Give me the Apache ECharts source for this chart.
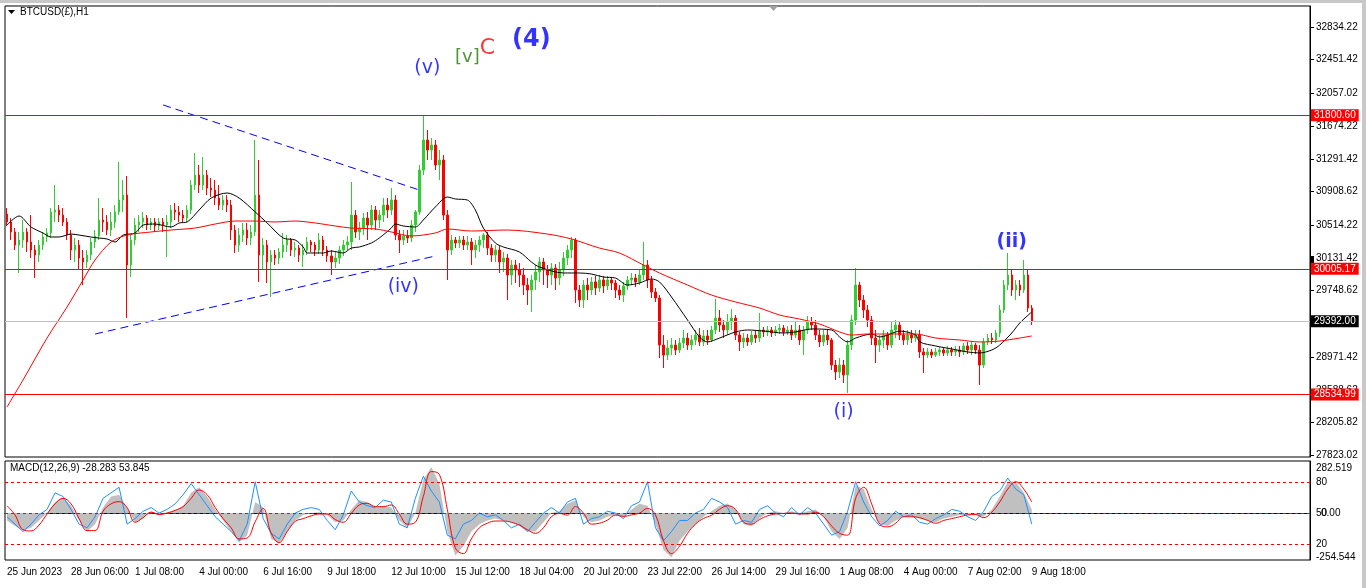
<!DOCTYPE html>
<html><head><meta charset="utf-8">
<script src="https://cdn.jsdelivr.net/npm/echarts@6/dist/echarts.min.js"></script>
<style>html,body{margin:0;padding:0;background:#fff;overflow:hidden}#c{width:1366px;height:588px}</style>
</head><body><div id="c"></div>
<script>
// ---------- axis labels ----------
const timeTickLabels = ['25 Jun 2023','28 Jun 06:00','1 Jul 08:00','4 Jul 00:00','6 Jul 16:00','9 Jul 18:00','12 Jul 10:00','15 Jul 12:00','18 Jul 04:00','20 Jul 20:00','23 Jul 22:00','26 Jul 14:00','29 Jul 16:00','1 Aug 08:00','4 Aug 00:00','7 Aug 02:00','9 Aug 18:00'];
const priceTicks = [32834.22,32451.42,32057.02,31674.22,31291.42,30908.62,30514.22,30131.42,29748.62,29365.82,28971.42,28588.62,28205.82,27823.02];
const macdAxisValues = [282.519,168,0,-168,-254.544];
const macdAxisTexts = ['282.519','80','50','20','-254.544'];

// ---------- candles (each = 4 hourly bars) ----------
const opens = [
30646,30553,30436,30283,30342,30436,30319,30225,30166,30283,
30377,30424,30670,30693,30634,30553,30400,30225,30283,30131,
30085,30166,30319,30389,30576,30553,30459,30553,30670,30810,
30868,30049,30342,30517,30553,30599,30517,30553,30506,30553,
30517,30553,30693,30670,30634,30599,30693,30985,31102,30985,
31102,30950,30927,30833,30751,30810,30751,30459,30283,30400,
30459,30365,30436,30868,30166,30283,30085,30166,30131,30202,
30283,30342,30225,30248,30166,30225,30319,30283,30225,30342,
30225,30155,30085,30131,30225,30283,30319,30634,30436,30482,
30599,30517,30693,30576,30634,30751,30693,30810,30400,30342,
30389,30365,30517,30670,31161,31512,31395,31454,31220,31278,
30634,30225,30342,30307,30342,30283,30319,30225,30283,30342,
30400,30248,30166,30225,30085,30131,29932,30049,29991,29932,
29815,29757,29874,29968,30085,29991,29932,30014,29897,29991,
30131,30225,30342,29757,29640,29815,29757,29851,29780,29874,
29804,29874,29839,29757,29698,29804,29874,29897,29851,29932,
30049,29874,29734,29663,29113,28996,29078,29113,29055,29137,
29195,29113,29172,29230,29149,29219,29172,29289,29429,29347,
29289,29383,29429,29230,29149,29195,29149,29230,29195,29289,
29266,29289,29254,29289,29312,29266,29289,29230,29289,29172,
29289,29383,29347,29230,29149,29230,29172,28879,28798,28879,
28762,29113,29406,29815,29640,29523,29406,29195,29113,29172,
29230,29113,29289,29347,29230,29172,29230,29195,29230,29032,
28996,29032,28996,29032,29055,29020,29055,29032,29055,29032,
29102,29055,29113,29055,28879,29149,29195,29172,29254,29523,
29815,29932,29757,29815,29757,29932,29546];
const closes = [
30553,30436,30283,30342,30436,30319,30225,30166,30283,30377,
30424,30670,30693,30634,30553,30400,30225,30283,30131,30085,
30166,30319,30389,30576,30553,30459,30553,30670,30810,30868,
30049,30342,30517,30553,30599,30517,30553,30506,30553,30517,
30553,30693,30670,30634,30599,30693,30985,31102,30985,31102,
30950,30927,30833,30751,30810,30751,30459,30283,30400,30459,
30365,30436,30868,30166,30283,30085,30166,30131,30202,30283,
30342,30225,30248,30166,30225,30319,30283,30225,30342,30225,
30155,30085,30131,30225,30283,30319,30634,30436,30482,30599,
30517,30693,30576,30634,30751,30693,30810,30400,30342,30389,
30365,30517,30670,31161,31512,31395,31454,31220,31278,30634,
30225,30342,30307,30342,30283,30319,30225,30283,30342,30400,
30248,30166,30225,30085,30131,29932,30049,29991,29932,29815,
29757,29874,29968,30085,29991,29932,30014,29897,29991,30131,
30225,30342,29757,29640,29815,29757,29851,29780,29874,29804,
29874,29839,29757,29698,29804,29874,29897,29851,29932,30049,
29874,29734,29663,29113,28996,29078,29113,29055,29137,29195,
29113,29172,29230,29149,29219,29172,29289,29429,29347,29289,
29383,29429,29230,29149,29195,29149,29230,29195,29289,29266,
29289,29254,29289,29312,29266,29289,29230,29289,29172,29289,
29383,29347,29230,29149,29230,29172,28879,28798,28879,28762,
29113,29406,29815,29640,29523,29406,29195,29113,29172,29230,
29113,29289,29347,29230,29172,29230,29195,29230,29032,28996,
29032,28996,29032,29055,29020,29055,29032,29055,29032,29102,
29055,29113,29055,28879,29149,29195,29172,29254,29523,29815,
29932,29757,29815,29757,29932,29546,29392];
const lows = [
30506,30342,30225,29956,30248,30202,30131,29897,30085,30225,
30319,30365,30553,30553,30506,30342,30108,30085,29991,29815,
30014,30108,30248,30342,30436,30400,30389,30482,30634,30670,
29429,29909,30283,30436,30482,30459,30459,30436,30459,30436,
30143,30482,30576,30553,30553,30553,30646,30927,30892,30927,
30868,30845,30751,30693,30693,30670,30342,30190,30202,30319,
30283,30283,30389,29851,29991,29839,29675,30049,30061,30131,
30202,30155,30143,30085,30026,30166,30202,30155,30178,30155,
30085,29932,30014,30061,30155,30225,30225,30365,30342,30400,
30342,30459,30459,30482,30553,30599,30634,30342,30190,30283,
30307,30319,30436,30634,31102,31278,31278,31161,31044,30576,
29874,30166,30248,30248,30225,30225,30049,30131,30202,30248,
30166,30085,30085,29956,29968,29640,29815,29839,29792,29698,
29581,29500,29757,29851,29815,29780,29815,29757,29815,29921,
30049,30131,29605,29558,29546,29640,29698,29698,29734,29722,
29757,29757,29663,29640,29617,29757,29815,29792,29815,29874,
29780,29663,29617,28961,28844,28938,28996,28996,29020,29078,
29055,29055,29113,29102,29102,29113,29149,29242,29266,29195,
29230,29289,29172,29043,29078,29102,29113,29137,29149,29207,
29219,29207,29219,29242,29219,29230,29172,29195,29113,28996,
29242,29289,29172,29090,29102,29113,28821,28704,28727,28669,
28552,29055,29347,29558,29429,29324,29113,28903,29032,29078,
29055,29078,29195,29172,29113,29113,29137,29149,28961,28786,
28961,28961,28973,28985,28985,28985,28985,28985,28973,28996,
29008,28996,29008,28645,28844,29113,29125,29137,29207,29488,
29757,29687,29640,29687,29722,29500,29347];
const highs = [
30716,30599,30482,30436,30576,30482,30634,30283,30342,30436,
30482,30716,30985,30751,30716,30599,30459,30365,30342,30225,
30225,30365,30459,30833,30716,30634,30670,30751,31255,31044,
31091,30400,30599,30634,30670,30634,30599,30599,30599,30599,
30634,30751,30775,30740,30693,30751,31044,31360,31220,31313,
31161,31067,31044,30985,30868,30868,30810,30517,30482,30541,
30541,30517,31512,31278,30365,30342,30225,30225,30248,30424,
30400,30365,30319,30283,30295,30377,30342,30319,30424,30389,
30272,30225,30202,30272,30342,30389,31021,30693,30553,30658,
30670,30751,30740,30693,30833,30833,30950,30868,30459,30459,
30459,30576,30693,31220,31793,31629,31535,31512,31395,31337,
30693,30400,30377,30389,30389,30389,30365,30342,30389,30424,
30436,30295,30283,30272,30202,30178,30108,30108,30073,30014,
29897,29932,30049,30143,30131,30049,30073,30061,30085,30202,
30283,30377,30365,29815,29874,29897,29909,29921,29932,29921,
29921,29909,29874,29815,29851,29921,29956,29944,29991,30319,
30108,29921,29780,29698,29230,29172,29195,29172,29195,29289,
29254,29230,29289,29312,29289,29289,29336,29652,29523,29406,
29476,29535,29464,29266,29254,29242,29277,29289,29488,29324,
29336,29324,29336,29359,29347,29336,29347,29383,29347,29336,
29453,29441,29406,29289,29289,29289,29195,28938,28961,28938,
29172,29464,30014,29851,29698,29581,29453,29289,29230,29289,
29266,29383,29406,29394,29289,29289,29289,29289,29289,29078,
29078,29067,29078,29090,29090,29102,29090,29102,29102,29137,
29149,29149,29137,29113,29195,29242,29254,29289,29581,29874,
30190,29991,29874,29874,30108,29991,29581];

// ---------- moving averages [candle index, price] ----------
const maFast = [[0,30517],[3,30623],[6,30494],[9,30424],[11,30377],[13,30377],[16,30412],[18,30400],[21,30377],[23,30365],[25,30354],[27,30319],[29,30400],[32,30424],[34,30517],[37,30529],[41,30494],[43,30541],[45,30553],[48,30693],[51,30833],[55,30892],[58,30833],[62,30670],[65,30541],[69,30365],[72,30342],[74,30260],[75,30190],[79,30190],[81,30213],[84,30190],[86,30248],[88,30260],[91,30307],[93,30365],[96,30482],[97,30529],[99,30506],[102,30494],[104,30576],[107,30728],[110,30845],[112,30822],[115,30810],[117,30693],[119,30482],[122,30307],[124,30260],[128,30202],[131,30085],[133,30026],[139,29956],[143,29956],[146,29944],[149,29909],[152,29897],[155,29815],[158,29839],[161,29886],[163,29851],[166,29675],[170,29406],[173,29207],[175,29149],[178,29195],[182,29266],[185,29289],[189,29277],[194,29254],[197,29266],[201,29301],[206,29289],[208,29207],[210,29149],[212,29195],[216,29242],[218,29207],[222,29266],[223,29277],[227,29230],[228,29149],[232,29102],[236,29067],[240,29032],[243,29020],[246,29055],[248,29113],[251,29254],[253,29371],[256,29500]];
const maSlow = [[0,28388],[4,28704],[10,29195],[15,29558],[19,29874],[22,30108],[26,30319],[30,30400],[36,30436],[41,30459],[47,30482],[52,30529],[57,30564],[62,30564],[67,30553],[72,30564],[77,30541],[82,30506],[86,30482],[92,30471],[96,30436],[101,30389],[107,30424],[110,30471],[116,30447],[125,30459],[135,30412],[141,30354],[148,30248],[153,30190],[159,30049],[163,29956],[170,29815],[176,29698],[182,29617],[188,29546],[193,29464],[198,29417],[203,29359],[208,29266],[211,29230],[215,29242],[221,29242],[227,29242],[232,29195],[238,29172],[243,29149],[248,29160],[253,29195],[256,29219]];

// ---------- price levels ----------
const levelResistance = 31800.60;
const levelPivot = 30005.17;
const levelSupport = 28534.99;
const lastPrice = 29392.00;

// ---------- trend lines [candle index, price] ----------
const trendUpper = [[39,31922],[103,30927]];
const trendLower = [[22,29242],[107,30155]];

// ---------- wave labels ----------
const waveTexts  = ['(v)','[v]','C','(4)','(iv)','(i)','(ii)'];
const waveIndex  = [105,115,120,131,99,209,251];
const wavePrice  = [32354,32483,32588,32682,29792,28330,30319];
const waveColors = ['#0000ff','#1f7a00','#ff0000','#0000ff','#0000ff','#0000ff','#0000ff'];
const waveSizes  = [19,18,22,24,19,19,19];

// ---------- MACD panel (one value every 2 candles) ----------
const macdGray = [
-40,-70,-95,-80,-40,0,60,85,40,-40,
-100,-60,30,90,100,30,-50,-30,10,-5,
5,15,40,110,140,90,20,-40,-100,-160,
-120,60,30,-140,-165,-100,-40,-10,0,5,
-10,-50,-40,20,70,60,30,40,30,-40,
-80,0,180,250,160,-100,-230,-180,-100,-60,
-40,-30,-40,-50,-70,-100,-100,-50,0,10,
50,70,-20,-50,-40,-20,-10,-20,20,50,
40,-60,-200,-240,-150,
-100,-60,-20,10,40,50,20,-60,-70,-30,
0,10,0,10,0,10,20,-20,-100,-140,
-80,150,130,20,-60,-70,-40,-20,-20,-30,
-40,-50,-30,-20,-10,-10,-10,-20,20,90,
170,170,110,20];
const macdSignal = [
40,-10,-90,-97,-65,-5,50,80,50,-30,
-95,-95,10,50,62,30,-50,-25,5,-8,
0,15,35,80,125,100,30,-30,-80,-140,
-135,-47,25,-110,-160,-100,-45,-30,-15,-5,
-5,-35,-50,-2,44,53,35,35,44,-5,
-60,-50,90,225,210,20,-190,-220,-140,-80,
-55,-43,-43,-50,-65,-90,-110,-80,-20,-2,
-11,35,0,-60,-55,-38,-11,-18,-10,0,
25,-10,-150,-220,-180,
-110,-60,-29,-12,20,40,20,-50,-60,-35,
-15,-5,-2,0,-5,-5,5,-20,-70,-110,
-120,80,140,50,-60,-75,-55,-20,-20,-25,
-40,-55,-40,-30,-20,-10,-8,-25,5,60,
130,170,130,60];
const macdBlue = [
-20,-60,-100,-60,-10,20,110,90,20,-60,
-80,-20,80,110,140,-60,-30,10,30,0,
20,50,100,160,100,40,-20,-60,-100,-150,
-60,170,-30,-110,-140,-60,0,20,30,20,
-40,-90,-10,120,60,40,30,70,60,-60,
-80,80,200,120,60,-120,-140,-60,-40,0,
-20,-10,-40,-80,-60,-100,-50,0,30,0,
60,80,-60,-30,-20,10,0,-30,40,60,
170,-80,-150,-100,-40,
-40,0,20,80,60,30,-60,-40,-50,20,
40,0,-20,30,-10,30,0,-60,-120,-100,
10,170,60,-20,-70,-40,10,-20,-10,-50,
-60,-30,-10,20,10,-20,-40,10,90,120,
190,130,100,-60];
const macdLevels = [168, 0, -168];

// ---------- build ----------
const FONT = '"Liberation Sans", Arial, sans-serif';
const nCat = 326;
const cats = Array.from({length: nCat}, (_, i) => String(i));
const candles = opens.map((o, i) => [o, closes[i], lows[i], highs[i]]);
const step2 = arr => arr.map((v, k) => [2 * k, v]);

function lvl(v, lineColor, bg) {
  return { yAxis: v, lineStyle: { color: lineColor, width: 1, type: 'solid' },
    label: { show: true, position: 'end', distance: 1, formatter: v.toFixed(2), color: '#fff',
      backgroundColor: bg, padding: [1, 3, 1, 3], fontSize: 10, fontFamily: FONT } };
}

const chart = echarts.init(document.getElementById('c'), null, { renderer: 'canvas' });
chart.setOption({
  animation: false,
  backgroundColor: '#ffffff',
  grid: [
    { left: 5, top: 6, width: 1305, height: 451, show: true, borderColor: '#000', borderWidth: 1, backgroundColor: 'transparent' },
    { left: 5, top: 461, width: 1305, height: 99, show: true, borderColor: '#000', borderWidth: 1, backgroundColor: 'transparent' }
  ],
  xAxis: [
    { type: 'category', gridIndex: 0, data: cats, boundaryGap: true, show: false },
    { type: 'category', gridIndex: 1, data: cats, boundaryGap: true,
      axisLine: { lineStyle: { color: '#000' } },
      axisTick: { interval: 15, length: 4, lineStyle: { color: '#000' } },
      axisLabel: { interval: 15, align: 'left', margin: 7, color: '#000', fontSize: 10, fontFamily: FONT,
        formatter: (v, idx) => (idx % 16 === 0 && timeTickLabels[idx / 16]) ? timeTickLabels[idx / 16] : '' },
      splitLine: { show: false } }
  ],
  yAxis: [
    { type: 'value', gridIndex: 0, position: 'right', min: 27803, max: 33080,
      axisLine: { show: true, lineStyle: { color: '#000' } },
      axisTick: { show: true, customValues: priceTicks, length: 4, lineStyle: { color: '#000' } },
      axisLabel: { customValues: priceTicks, formatter: v => v.toFixed(2), margin: 6, color: '#000', fontSize: 10, fontFamily: FONT },
      splitLine: { show: false } },
    { type: 'value', gridIndex: 1, position: 'right', min: -254.544, max: 282.519,
      axisLine: { show: true, lineStyle: { color: '#000' } },
      axisTick: { show: false },
      axisLabel: { customValues: macdAxisValues, margin: 6, color: '#000', fontSize: 10, fontFamily: FONT,
        formatter: v => {
          const k = macdAxisValues.findIndex(a => Math.abs(a - v) < 0.01);
          if (k === 0) return '{t|' + macdAxisTexts[k] + '}';
          if (k === macdAxisValues.length - 1) return '{b|' + macdAxisTexts[k] + '}';
          return k >= 0 ? macdAxisTexts[k] : '';
        },
        rich: { t: { padding: [14, 0, 0, 0], fontSize: 10, fontFamily: FONT, color: '#000' },
                b: { padding: [0, 0, 6, 0], fontSize: 10, fontFamily: FONT, color: '#000' } } },
      splitLine: { show: false } },
    { type: 'value', gridIndex: 1, position: 'right', min: -254.544, max: 282.519,
      axisLine: { show: false }, axisTick: { show: false }, splitLine: { show: false },
      axisLabel: { customValues: [0], formatter: () => '0.00', margin: 11, color: '#000', fontSize: 10, fontFamily: FONT } }
  ],
  graphic: [
    { type: 'rect', shape: { x: 0, y: 0, width: 1366, height: 3 }, style: { fill: '#c8c8c8' }, silent: true },
    { type: 'rect', shape: { x: 1362, y: 0, width: 4, height: 588 }, style: { fill: '#c8c8c8' }, silent: true },
    { type: 'rect', shape: { x: 1311, y: 256, width: 3, height: 18 }, style: { fill: '#000' }, silent: true },
    { type: 'polygon', shape: { points: [[769, 6], [778, 6], [773.5, 11]] }, style: { fill: '#a0a0a0' }, silent: true },
    { type: 'polygon', shape: { points: [[8, 10], [15, 10], [11.5, 14]] }, style: { fill: '#000' }, silent: true },
    { type: 'text', left: 20, top: 7, style: { text: 'BTCUSD(£),H1', font: '10px ' + FONT, fill: '#000' }, silent: true },
    { type: 'text', left: 10, top: 463, style: { text: 'MACD(12,26,9) -28.283 53.845', font: '10px ' + FONT, fill: '#000' }, silent: true }
  ],
  series: [
    { type: 'candlestick', name: 'BTCUSD', xAxisIndex: 0, yAxisIndex: 0, data: candles, barMaxWidth: 3,
      itemStyle: { color: '#32cd32', color0: '#ff0000', borderColor: '#32cd32', borderColor0: '#ff0000', borderWidth: 1 },
      markLine: { symbol: 'none', silent: true, animation: false,
        data: [ lvl(levelResistance, '#ff0000', '#ff0000'), lvl(levelPivot, '#ff0000', '#ff0000'),
                lvl(levelSupport, '#ff0000', '#ff0000'), lvl(lastPrice, '#c0c0c0', '#000000') ] } },
    { type: 'line', name: 'MA fast', xAxisIndex: 0, yAxisIndex: 0, data: maFast, symbol: 'none', smooth: 0.3,
      lineStyle: { color: '#000', width: 1 }, z: 3 },
    { type: 'line', name: 'MA slow', xAxisIndex: 0, yAxisIndex: 0, data: maSlow, symbol: 'none', smooth: 0.3,
      lineStyle: { color: '#ff0000', width: 1 }, z: 3 },
    { type: 'line', name: 'trend upper', xAxisIndex: 0, yAxisIndex: 0, data: trendUpper, symbol: 'none',
      lineStyle: { color: '#0000ff', width: 1, type: [8, 5] }, z: 4 },
    { type: 'line', name: 'trend lower', xAxisIndex: 0, yAxisIndex: 0, data: trendLower, symbol: 'none',
      lineStyle: { color: '#0000ff', width: 1, type: [8, 5] }, z: 4 },
    { type: 'scatter', name: 'waves', xAxisIndex: 0, yAxisIndex: 0, symbolSize: 0, z: 5,
      data: waveTexts.map((t, k) => ({ value: [waveIndex[k], wavePrice[k]],
        label: { show: true, position: 'inside', formatter: t, color: waveColors[k], fontSize: waveSizes[k],
          fontFamily: '"DejaVu Sans", Verdana, sans-serif', fontWeight: (t === '(ii)' || t === '(4)') ? 'bold' : 'normal' } })) },
    { type: 'line', name: 'MACD hist', xAxisIndex: 1, yAxisIndex: 1, data: step2(macdGray), symbol: 'none',
      lineStyle: { width: 0, color: '#c0c0c0' }, areaStyle: { color: '#c0c0c0', opacity: 1, origin: 0 }, z: 2,
      markLine: { symbol: 'none', silent: true, animation: false, label: { show: false },
        lineStyle: { color: '#ff0000', type: [3, 3], width: 1 },
        data: macdLevels.map(v => ({ yAxis: v })) } },
    { type: 'line', name: 'MACD blue', xAxisIndex: 1, yAxisIndex: 1, data: step2(macdBlue), symbol: 'none',
      lineStyle: { color: '#1e90ff', width: 1 }, z: 3 },
    { type: 'line', name: 'MACD signal', xAxisIndex: 1, yAxisIndex: 1, data: step2(macdSignal), symbol: 'none', smooth: 0.4,
      lineStyle: { color: '#ff0000', width: 1 }, z: 4 }
  ]
});
</script>
</body></html>
